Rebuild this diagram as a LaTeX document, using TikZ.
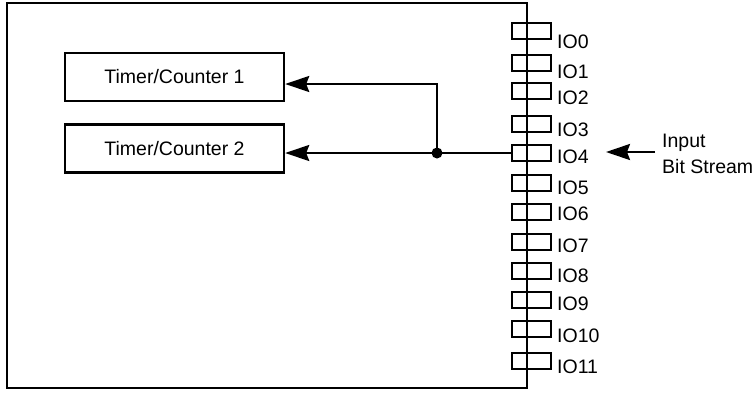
\documentclass[tikz,border=0pt]{standalone}
\usepackage{fontspec}
\setmainfont{Liberation Sans}
\usetikzlibrary{arrows.meta}
\begin{document}
\begin{tikzpicture}[x=1pt,y=-1pt,
  line width=2.4pt,
  txt/.style={font=\fontsize{19.5}{22}\selectfont, inner sep=0pt},
  pinbox/.style={draw, line width=2.4pt, minimum width=39pt, minimum height=15.5pt, inner sep=0pt},
  tcbox/.style={draw, line width=2.4pt, minimum width=219pt, minimum height=48pt, inner sep=0pt, font=\fontsize{19.5}{22}\selectfont},
  arr/.style={-{Stealth[length=24pt,width=16pt,inset=3pt]}},
  iolab/.style={txt, anchor=west}]
\useasboundingbox (0,0) rectangle (756,392);
% outer chip
\draw (7,3) rectangle (527,388);
% pins
\foreach \i/\y/\ly in {0/31/42,1/63/72,2/91/98,3/124/130,4/153/157,5/183/188,6/212/214,7/242/246,8/271/276,9/300/304,10/329/336,11/361/367}{
  \node[pinbox] (p\i) at (531.5,\y) {};
  \node[iolab] (l\i) at (556,\ly) {IO\i};
}
% timer boxes
\node[tcbox] (t1) at (174.5,77) {Timer/Counter 1};
\node[tcbox] (t2) at (174.5,148.5) {Timer/Counter 2};
% junction
\coordinate (j) at (437,153);
\coordinate (a1) at (t1.east |- 0,84);
\coordinate (a2) at (t2.east |- j);
\fill (j) circle (5.5pt);
\draw (p4.west) -- (j);
\draw[arr] (j) -- (a2);
\draw[arr] (j) |- (a1);
% input
\node[txt, anchor=west] (in1) at (661,143) {Input};
\node[txt, anchor=west] (in2) at (661,167) {Bit Stream};
\coordinate (s) at (655,152);
\coordinate (e) at (606,152);
\draw[arr] (s) -- (e);
\end{tikzpicture}
\end{document}
